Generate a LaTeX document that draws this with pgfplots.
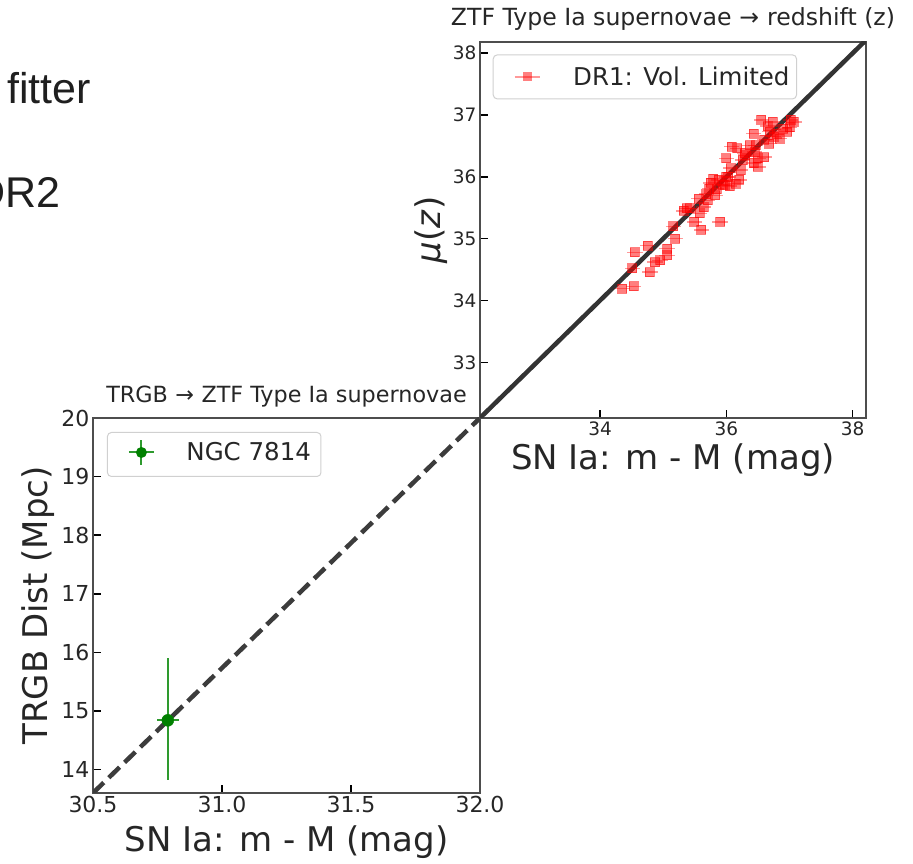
\documentclass[border=0pt]{standalone}
\usepackage{pgfplots}
\usepackage{pgfplotstable}
\pgfplotsset{compat=1.18}
\usepackage{fontspec}
\setmainfont{DejaVu Sans}
\newfontfamily\slidefont{Liberation Sans}
\definecolor{lineg}{HTML}{333333}
\definecolor{dashg}{HTML}{3C3C3C}
\definecolor{mkgreen}{HTML}{008000}
\definecolor{errgreen}{HTML}{2E9A2E}
\definecolor{framec}{HTML}{4D4D4D}
\definecolor{legframe}{HTML}{D0D0D0}

\pgfplotstableread{
x y ex
34.35 34.19 0.12
34.53 34.23 0.12
34.51 34.52 0.12
34.55 34.78 0.13
34.75 34.89 0.12
34.79 34.46 0.12
34.87 34.62 0.12
34.95 34.65 0.12
35.06 34.84 0.12
35.06 34.73 0.12
35.19 35.00 0.12
35.16 35.20 0.12
35.32 35.45 0.12
35.42 35.49 0.12
35.49 35.27 0.12
35.60 35.14 0.12
35.90 35.27 0.12
35.58 35.41 0.12
35.64 35.51 0.12
35.56 35.65 0.12
35.37 35.49 0.12
35.70 35.62 0.12
35.73 35.81 0.12
35.79 35.97 0.12
35.82 35.70 0.12
35.94 35.87 0.12
35.97 35.87 0.12
36.15 35.89 0.12
36.05 35.85 0.12
35.68 35.72 0.12
35.75 35.90 0.12
35.85 35.80 0.12
35.88 35.95 0.12
36.00 36.00 0.12
36.03 36.00 0.12
36.00 36.30 0.12
36.08 36.49 0.12
36.07 36.14 0.12
36.23 36.11 0.12
36.26 36.27 0.12
36.17 36.46 0.12
36.29 36.38 0.12
36.43 36.22 0.12
36.50 36.16 0.12
36.37 36.51 0.12
36.46 36.51 0.12
36.60 36.32 0.12
36.43 36.70 0.12
36.55 36.92 0.12
36.73 36.89 0.12
37.07 36.89 0.12
37.02 36.92 0.12
36.69 36.73 0.12
36.96 36.73 0.12
36.68 36.54 0.12
36.84 36.62 0.12
36.50 36.30 0.12
36.45 36.40 0.12
36.60 36.60 0.12
36.75 36.65 0.12
36.90 36.78 0.12
37.00 36.80 0.12
36.80 36.70 0.12
36.65 36.82 0.12
36.30 36.35 0.12
36.20 35.95 0.12
}\reddata

\begin{document}
\begin{tikzpicture}
% cut-off slide text at left
\node[anchor=base east, inner sep=0pt, font=\slidefont\fontsize{43}{50}\selectfont, text=black!88] at (91pt,760.7pt) {fitter};
\node[anchor=base east, inner sep=0pt, font=\slidefont\fontsize{43}{50}\selectfont, text=black!88] at (61pt,656pt) {DR2};

% ---------------- lower axis ----------------
\begin{axis}[
  at={(93pt,71pt)}, anchor=south west,
  scale only axis, width=387pt, height=375pt,
  xmin=30.5, xmax=32.0, ymin=13.6, ymax=20,
  xtick={30.5,31,31.5,32}, ytick={14,15,16,17,18,19,20},
  /pgf/number format/assume math mode=true,
  xticklabel style={/pgf/number format/fixed, /pgf/number format/fixed zerofill, /pgf/number format/precision=1},
  tick label style={font=\fontsize{22}{26}\selectfont, text=black!85},
  tick pos=left, tick align=inside, major tick length=8pt,
  tick style={line width=1.5pt, black},
  axis line style={line width=1.3pt, framec},
  title={TRGB\,\,→\,\,ZTF Type Ia supernovae},
  title style={font=\fontsize{22.3}{26}\selectfont, at={(axis description cs:0.5,1.024)}, anchor=base, text=black!85},
  xlabel={SN Ia: m - M (mag)},
  xlabel style={font=\fontsize{34}{40}\selectfont, at={(axis description cs:0.5,-0.1573)}, anchor=base, text=black!85},
  ylabel={TRGB Dist (Mpc)},
  ylabel style={font=\fontsize{34}{40}\selectfont, at={(axis description cs:-0.1163,0.5)}, anchor=base, text=black!85},
  legend style={at={(axis description cs:0.036,0.9627)}, anchor=north west, draw=legframe, line width=1pt, rounded corners=4pt, fill=white, inner sep=0pt, column sep=0pt, nodes={inner sep=0pt}, font=\fontsize{24.5}{28}\selectfont, text=black!85},
  legend cell align=left,
  legend image code/.code={
    \path[draw=none, fill=none, sharp corners] (0pt,-24pt) rectangle (79pt,20pt);
    \draw[errgreen, line width=2pt, sharp corners] (21.5pt,0pt) -- (46.5pt,0pt) (34pt,-12.5pt) -- (34pt,12.5pt);
    \fill[mkgreen, draw=none] (34pt,0pt) circle (5.5pt);
  },
]
\addplot[dashg, line width=4.5pt, dash pattern=on 15pt off 7pt, forget plot] coordinates {(30.5,13.6) (32.0,20.0)};
\addplot[only marks, mark=*, mark size=6pt, color=mkgreen,
  error bars/.cd, x dir=both, y dir=both, x explicit, y explicit,
  error bar style={color=errgreen, line width=2pt}, error mark=none]
  coordinates {(30.79,14.84) += (0.042,1.06) -= (0.042,1.02)};
\addlegendentry{NGC 7814\hspace*{10pt}}
\end{axis}

% ---------------- upper axis ----------------
\begin{axis}[
  at={(480pt,446pt)}, anchor=south west,
  scale only axis, width=386pt, height=376pt,
  xmin=32.1, xmax=38.21, ymin=32.1, ymax=38.18,
  xtick={34,36,38}, ytick={33,34,35,36,37,38},
  /pgf/number format/assume math mode=true,
  tick label style={font=\fontsize{18.5}{22}\selectfont, text=black!85},
  tick pos=left, tick align=inside, major tick length=8pt,
  tick style={line width=1.5pt, black},
  axis line style={line width=1.3pt, framec},
  title={ZTF Type Ia supernovae\,\,→\,\,redshift (z)},
  title style={font=\fontsize{23.6}{28}\selectfont, at={(axis description cs:0.5,1.0285)}, anchor=base, text=black!85},
  xlabel={SN Ia: m - M (mag)},
  xlabel style={font=\fontsize{34}{40}\selectfont, at={(axis description cs:0.5,-0.1383)}, anchor=base, text=black!85},
  ylabel={\textit{μ}(\textit{z})},
  ylabel style={font=\fontsize{34}{40}\selectfont, at={(axis description cs:-0.1036,0.5)}, anchor=base, text=black!85},
  legend style={at={(axis description cs:0.033,0.967)}, anchor=north west, draw=legframe, line width=1pt, rounded corners=4pt, fill=white, inner sep=0pt, column sep=0pt, nodes={inner sep=0pt}, font=\fontsize{24.5}{28}\selectfont, text=black!85},
  legend cell align=left,
  legend image code/.code={
    \path[draw=none, fill=none, sharp corners] (0pt,-22pt) rectangle (80pt,22pt);
    \draw[red, opacity=0.4, line width=1.5pt, sharp corners] (21.5pt,0pt) -- (46.5pt,0pt);
    \fill[red, opacity=0.5, draw=none, sharp corners] (29.5pt,-4.5pt) rectangle (38.5pt,4.5pt);
  },
]
\addplot[lineg, line width=4.5pt, forget plot] coordinates {(32.1,32.1) (38.4,38.4)};
\addplot[only marks, mark=square*, mark size=4.5pt,
  mark options={draw=red, fill=red, fill opacity=0.5, draw opacity=0.5, line width=0.8pt},
  error bars/.cd, x dir=both, x explicit,
  error bar style={red, opacity=0.4, line width=1.5pt}, error mark=none]
  table[x=x, y=y, x error=ex] {\reddata};
\addlegendentry{DR1: Vol. Limited\hspace*{7pt}}
\end{axis}

\pgfresetboundingbox
\path[use as bounding box] (0pt,0pt) rectangle (913pt,864pt);
\end{tikzpicture}
\end{document}
